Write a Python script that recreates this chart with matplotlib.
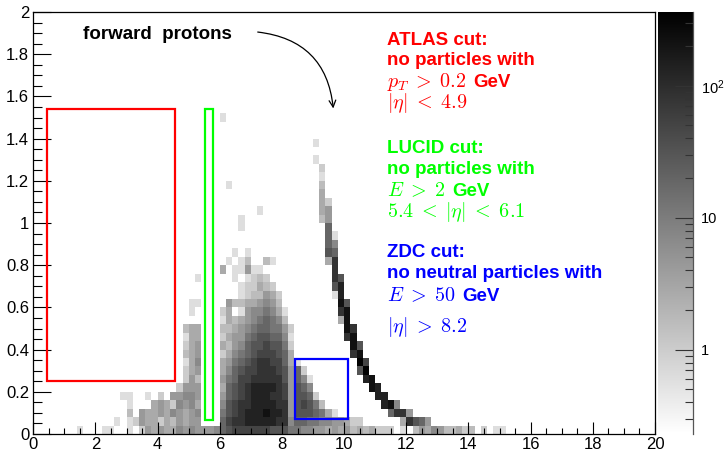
import numpy as np
import matplotlib
matplotlib.use("Agg")
import matplotlib.pyplot as plt
from matplotlib.colors import LogNorm
from matplotlib.patches import Rectangle
from matplotlib.ticker import MultipleLocator, FuncFormatter, LogLocator, NullFormatter

plt.rcParams['font.family'] = ['Liberation Sans', 'DejaVu Sans']

# ---------------- data ----------------
X_RANGE = (0.0, 20.0)
Y_RANGE = (0.0, 2.0)
N_XBINS = 100
N_YBINS = 50
Z_MIN, Z_MAX = 0.23, 362.0

# gray level -> bin content
LEVEL_COUNTS = {'d': 0.6, 'c': 1.0, 'b': 1.6, 'a': 2.7, '9': 4.4, '8': 7.0,
                '7': 12.0, '6': 19.0, '5': 31.0, '4': 50.0, '3': 83.0,
                '2': 135.0, '1': 220.0, '0': 350.0}

# (row index, first column index, levels of consecutive bins)
SEGMENTS = [
    (37, 30, "d"),
    (34, 45, "d"),
    (32, 45, "d"),
    (31, 46, "c"),
    (30, 46, "d"),
    (29, 31, "d"), (29, 46, "b"),
    (28, 46, "a"),
    (27, 46, "ac"),
    (26, 36, "d"), (26, 46, "a9"),
    (25, 33, "d"), (25, 46, "b9"),
    (24, 33, "d"), (24, 47, "6"),
    (23, 47, "6d"),
    (22, 47, "68"),
    (21, 32, "d"), (21, 34, "d"), (21, 47, "56"),
    (20, 31, "d"), (20, 33, "db"), (20, 37, "bd"), (20, 47, "a3"),
    (19, 30, "a"), (19, 32, "dd9dd"), (19, 48, "3"),
    (18, 26, "d"), (18, 32, "d"), (18, 34, "dcbc"), (18, 48, "35"),
    (17, 33, "dccabc"), (17, 48, "52"),
    (16, 33, "dcbb9ac"), (16, 48, "d2"),
    (15, 25, "dd"), (15, 31, "9bbaa989b"), (15, 49, "15"),
    (14, 25, "d"), (14, 30, "ca"), (14, 33, "d98878ad"), (14, 49, "31"),
    (13, 30, "daba987678b"), (13, 49, "a1"),
    (12, 24, "baa"), (12, 30, "bba98766779c"), (12, 50, "13"),
    (11, 24, "daa"), (11, 30, "ca997655668d"), (11, 50, "31"),
    (10, 24, "ca9"), (10, 30, "ab986554557c"), (10, 51, "15"),
    (9, 24, "ba9"), (9, 30, "ca876544456a"), (9, 51, "31"),
    (8, 24, "da8"), (8, 30, "a9765433446ad"), (8, 52, "04"),
    (7, 24, "ca9"), (7, 30, "a865443334596c"), (7, 52, "50"),
    (6, 24, "c9b"), (6, 30, "97644333335968d"), (6, 53, "21"),
    (5, 23, "c999"), (5, 30, "a65432222349568"), (5, 54, "12"),
    (4, 14, "dd"), (4, 18, "d"), (4, 20, "c"), (4, 22, "99889"),
    (4, 30, "965432223349556c"), (4, 55, "22"),
    (3, 15, "d"), (3, 19, "a9ac898a"), (3, 30, "8543322223395457b"), (3, 56, "218"),
    (2, 15, "b"), (2, 17, "9aa9a89a98"), (2, 30, "75432221223955567ad"), (2, 57, "6339"),
    (1, 13, "d"), (1, 15, "dc9aacab9a99"), (1, 30, "64332222233866778899acc"),
    (1, 59, "a3569"),
    (0, 7, "d"), (0, 11, "dd"), (0, 15, "d"), (0, 17, "c9a9aa8989998"),
    (0, 30, "65444444555778899a9a9babaccc"), (0, 59, "d"), (0, 61, "b9a89bbacb"),
    (0, 72, "c"), (0, 74, "dd"),
]

# cut regions: (x0, x1, y0, y1, colour)
CUT_BOXES = [
    (0.43, 4.55, 0.25, 1.54, '#ff0000'),
    (5.51, 5.78, 0.066, 1.54, '#00ff00'),
    (8.42, 10.12, 0.07, 0.355, '#0000ff'),
]

# annotation blocks: colour, lines (text, math, unit), baselines (data y)
ANNOT_BLOCKS = [
    ('#ff0000',
     [("ATLAS cut:", None, None), ("no particles with", None, None),
      (None, r"$p_T\;>\;0.2$", "GeV"), (None, r"$|\eta|\;<\;4.9$", None)],
     [1.845, 1.749, 1.645, 1.545]),
    ('#00ff00',
     [("LUCID cut:", None, None), ("no particles with", None, None),
      (None, r"$E\;>\;2$", "GeV"), (None, r"$5.4\;<\;|\eta|\;<\;6.1$", None)],
     [1.334, 1.232, 1.128, 1.030]),
    ('#0000ff',
     [("ZDC cut:", None, None), ("no neutral particles with", None, None),
      (None, r"$E\;>\;50$", "GeV"), (None, r"$|\eta|\;>\;8.2$", None)],
     [0.839, 0.739, 0.630, 0.483]),
]

TEXT_X = 11.38

# ---------------- build histogram ----------------
x_edges = np.linspace(X_RANGE[0], X_RANGE[1], N_XBINS + 1)
y_edges = np.linspace(Y_RANGE[0], Y_RANGE[1], N_YBINS + 1)
H = np.full((N_YBINS, N_XBINS), np.nan)
for row, c0, levels in SEGMENTS:
    for k, ch in enumerate(levels):
        if ch != '.':
            H[row, c0 + k] = LEVEL_COUNTS[ch]
H = np.ma.masked_invalid(H)

# ---------------- figure ----------------
W, Hpx = 727, 454
fig = plt.figure(figsize=(W / 100, Hpx / 100), dpi=100)
ax = fig.add_axes([33.3 / W, 20 / Hpx, (655 - 33.3) / W, 422 / Hpx])
cax = fig.add_axes([658 / W, 20 / Hpx, 35 / W, 422 / Hpx])

norm = LogNorm(vmin=Z_MIN, vmax=Z_MAX)
mesh = ax.pcolormesh(x_edges, y_edges, H, cmap='gray_r', norm=norm,
                     edgecolors='none', antialiased=False)

ax.set_xlim(*X_RANGE)
ax.set_ylim(*Y_RANGE)

for x0, x1, y0, y1, col in CUT_BOXES:
    ax.add_patch(Rectangle((x0, y0), x1 - x0, y1 - y0, fill=False,
                           edgecolor=col, lw=1.6, zorder=5))

# ticks
ax.xaxis.set_major_locator(MultipleLocator(2))
ax.xaxis.set_minor_locator(MultipleLocator(0.5))
ax.yaxis.set_major_locator(MultipleLocator(0.2))
ax.yaxis.set_minor_locator(MultipleLocator(0.05))
ax.yaxis.set_major_formatter(FuncFormatter(lambda v, p: f"{v:g}"))
ax.tick_params(which='both', direction='in', top=False, right=False,
               width=0.8, color='black', labelsize=12)
ax.tick_params(axis='x', which='major', length=8.6, pad=2)
ax.tick_params(axis='x', which='minor', length=4.3)
ax.tick_params(axis='y', which='major', length=13, pad=3)
ax.tick_params(axis='y', which='minor', length=6.5)
for s in ax.spines.values():
    s.set_linewidth(0.9)

# texts
ax.text(1.6, 1.871, "forward  protons", fontsize=13.5, fontweight='bold',
        color='black', ha='left', va='baseline')
ax.annotate("", xy=(9.65, 1.543), xytext=(7.22, 1.905),
            arrowprops=dict(arrowstyle='->', connectionstyle='arc3,rad=-0.4',
                            lw=0.9, color='black', mutation_scale=12,
                            shrinkA=0, shrinkB=0))

for col, lines, ys in ANNOT_BLOCKS:
    for (plain, math, unit), yy in zip(lines, ys):
        if plain is not None:
            ax.text(TEXT_X, yy, plain, fontsize=13.5, fontweight='bold',
                    color=col, ha='left', va='baseline')
        else:
            t = ax.text(TEXT_X, yy, math, fontsize=14.5, color=col,
                        ha='left', va='baseline', math_fontfamily='cm')
            if unit is not None:
                ax.annotate(unit, xy=(1.0, yy), xycoords=(t, 'data'),
                            xytext=(5, 0), textcoords='offset points',
                            fontsize=13.5, fontweight='bold', color=col,
                            ha='left', va='baseline')

# colorbar
cb = fig.colorbar(mesh, cax=cax)
cb.outline.set_visible(False)
cax.yaxis.set_ticks_position('right')
cb.set_ticks([1, 10, 100])
cb.set_ticklabels(['1', '10', r'$\mathregular{10^{2}}$'])
cax.yaxis.set_minor_locator(LogLocator(base=10, subs=np.arange(2, 10) * 1.0, numticks=20))
cax.yaxis.set_minor_formatter(NullFormatter())
cax.tick_params(axis='y', which='major', direction='in', length=13, width=0.8,
                pad=6, labelsize=10.5, color='#333333')
cax.tick_params(axis='y', which='minor', direction='in', length=6, width=0.8,
                color='#333333')
cax.plot([1, 1], [0, 1], transform=cax.transAxes, color='#555555', lw=0.9,
         clip_on=False)

fig.savefig("out.png", dpi=100, facecolor='white')
